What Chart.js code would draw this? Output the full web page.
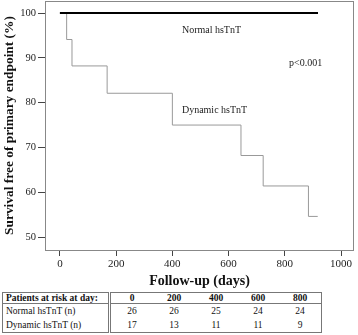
<!DOCTYPE html>
<html>
<head>
<meta charset="utf-8">
<script src="https://cdn.jsdelivr.net/npm/chart.js@4.4.1/dist/chart.umd.min.js"></script>
<style>
  html, body { margin: 0; padding: 0; width: 358px; height: 335px; overflow: hidden; background: #fff; font-family: "Liberation Serif", serif; }
  #wrap { position: relative; width: 358px; height: 335px; overflow: hidden; }
  #km { position: absolute; left: 0; top: 0; }
  #risk { position: absolute; left: 2px; top: 292px; border-collapse: collapse; border: 1px solid #777; font-size: 9.5px; line-height: 10px; color: #111; table-layout: fixed; }
  #risk td, #risk th { padding: 0; text-align: center; width: 42px; white-space: nowrap; overflow: hidden; }
  #risk th { font-weight: bold; height: 10px; border-bottom: 1px solid #777; }
  #risk td { height: 14px; }
  #risk .lab { text-align: left; width: 102px; padding-left: 3px; border-right: 3px double #777; }
</style>
</head>
<body>
<div id="wrap">
  <canvas id="km" width="358" height="290"></canvas>
  <table id="risk"></table>
</div>
<script>
// Kaplan-Meier data (days, % survival)
const normalDays = [0, 918];
const normalSurv = [100, 100];
const dynDays = [0, 24, 43, 168, 400, 644, 723, 884, 917];
const dynSurv = [100, 94.1, 88.2, 82.1, 75.0, 68.2, 61.4, 54.6, 54.6];

// at-risk table
const riskDays = [0, 200, 400, 600, 800];
const riskNormal = [26, 26, 25, 24, 24];
const riskDynamic = [17, 13, 11, 11, 9];

// text labels on the plot: [text, day, percent]
const labels = [
  ['Normal hsTnT', 434, 96.2],
  ['p<0.001', 815, 88.8],
  ['Dynamic hsTnT', 434, 78.3]
];

const SERIF = '"Liberation Serif", "Times New Roman", serif';

function toPoints(xs, ys) {
  return xs.map((x, i) => ({ x: x, y: ys[i] }));
}

// frame + texts
const framePlugin = {
  id: 'frame',
  afterDatasetsDraw(chart) {
    const ctx = chart.ctx;
    const a = chart.chartArea;
    ctx.save();
    ctx.strokeStyle = '#888';
    ctx.lineWidth = 1;
    ctx.strokeRect(a.left + 0.5, a.top + 0.5, a.right - a.left - 1, a.bottom - a.top);
    ctx.fillStyle = '#222';
    ctx.font = '10px ' + SERIF;
    ctx.textBaseline = 'middle';
    labels.forEach(l => {
      const px = chart.scales.x.getPixelForValue(l[1]);
      const py = chart.scales.y.getPixelForValue(l[2]);
      ctx.fillText(l[0], px, py);
    });
    ctx.restore();
  }
};

new Chart(document.getElementById('km'), {
  type: 'line',
  data: {
    datasets: [
      {
        label: 'Normal hsTnT',
        data: toPoints(normalDays, normalSurv),
        borderColor: '#000',
        borderWidth: 2,
        pointRadius: 0,
        stepped: true
      },
      {
        label: 'Dynamic hsTnT',
        data: toPoints(dynDays, dynSurv),
        borderColor: '#999',
        borderWidth: 1,
        pointRadius: 0,
        stepped: true
      }
    ]
  },
  options: {
    responsive: false,
    animation: false,
    layout: { padding: { top: 1, right: 4, left: 0, bottom: 0 } },
    plugins: { legend: { display: false }, tooltip: { enabled: false } },
    scales: {
      x: {
        type: 'linear',
        min: -53,
        max: 1046,
        border: { display: false },
        grid: { drawOnChartArea: false, drawTicks: true, tickLength: 6, color: '#444' },
        ticks: {
          stepSize: 200,
          includeBounds: false,
          maxRotation: 0,
          padding: 2,
          color: '#222',
          font: { family: SERIF, size: 11 },
          callback: v => String(v)
        },
        title: {
          display: true,
          text: 'Follow-up (days)',
          color: '#111',
          padding: { top: 3, bottom: 0 },
          font: { family: SERIF, size: 14, weight: 'bold' }
        },
        afterFit(scale) {
          scale.height = 40;
          scale.paddingLeft = 0;
          scale.paddingRight = 0;
        }
      },
      y: {
        min: 47.1,
        max: 102.7,
        border: { display: false },
        grid: { drawOnChartArea: false, drawTicks: true, tickLength: 7, color: '#444' },
        ticks: {
          stepSize: 10,
          includeBounds: false,
          padding: 2,
          color: '#222',
          font: { family: SERIF, size: 10.5 },
          callback: v => String(v)
        },
        title: {
          display: true,
          text: 'Survival free of primary endpoint (%)',
          color: '#111',
          padding: { top: 2, bottom: 0 },
          font: { family: SERIF, size: 13.4, weight: 'bold' }
        },
        afterFit(scale) {
          scale.width = 45;
          scale.paddingTop = 0;
          scale.paddingBottom = 0;
        }
      }
    }
  },
  plugins: [framePlugin]
});

// build the at-risk table
function buildTable() {
  const t = document.getElementById('risk');
  let html = '<tr><th class="lab">Patients at risk at day:</th>';
  riskDays.forEach(d => { html += '<th>' + d + '</th>'; });
  html += '</tr><tr><td class="lab">Normal hsTnT (n)</td>';
  riskNormal.forEach(n => { html += '<td>' + n + '</td>'; });
  html += '</tr><tr><td class="lab">Dynamic hsTnT (n)</td>';
  riskDynamic.forEach(n => { html += '<td>' + n + '</td>'; });
  html += '</tr>';
  t.innerHTML = html;
}
buildTable();
</script>
</body>
</html>
